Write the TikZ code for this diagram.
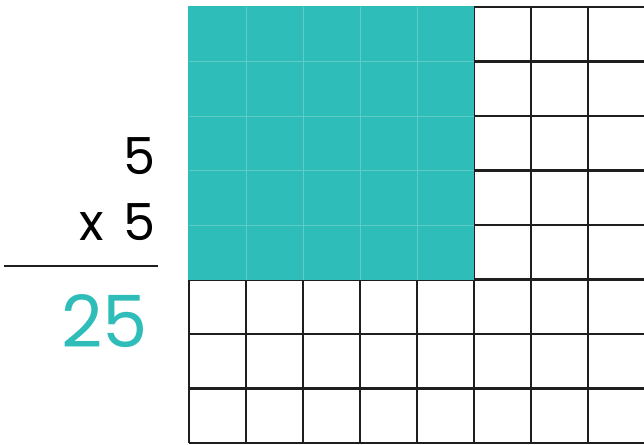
\documentclass[tikz,border=0pt]{standalone}
\usepackage{fontspec}
\setmainfont{Poppins}
\definecolor{tealfill}{HTML}{2FBDB9}
\definecolor{teallight}{HTML}{5FCCC8}
\definecolor{gridblack}{HTML}{1E1E1E}

\begin{document}
\begin{tikzpicture}[
    x=1pt, y=-1pt,
    cellline/.style={line width=2.2pt, gridblack},
    faintline/.style={line width=1pt, teallight},
    factor/.style={anchor=base east, inner sep=0pt, font=\fontsize{51}{51}\selectfont},
    product/.style={anchor=base east, inner sep=0pt, text=tealfill, font=\fontsize{72}{72}\selectfont},
  ]
  \useasboundingbox (0,0) rectangle (644,444);
  \fill[white] (0,0) rectangle (644,444);

  % ── Grid of cells (8 x 8) ──
  \foreach \i in {0,...,8}
    \draw[cellline] ({189+57*\i},7) -- ({189+57*\i},443);
  \foreach \j in {0,...,8}
    \draw[cellline] (189,{7+54.5*\j}) -- (650,{7+54.5*\j});

  % ── Shaded 5 x 5 block ──
  \fill[tealfill] (188,6) rectangle (474,279.5);
  \foreach \i in {1,...,4}
    \draw[faintline] ({189+57*\i},7) -- ({189+57*\i},279.5);
  \foreach \j in {1,...,4}
    \draw[faintline] (189,{7+54.5*\j}) -- (474,{7+54.5*\j});

  % ── Multiplication ──
  \node[factor] (top) at (156,174) {5};
  \node[factor] (bottom) at (156,240) {x\hspace{20pt}5};
  \coordinate (rulel) at (4,266);
  \coordinate (ruler) at (158,266);
  \draw[line width=1.5pt, gridblack] (rulel) -- (ruler);
  \node[product] (result) at (148,347) {25};

\end{tikzpicture}
\end{document}
